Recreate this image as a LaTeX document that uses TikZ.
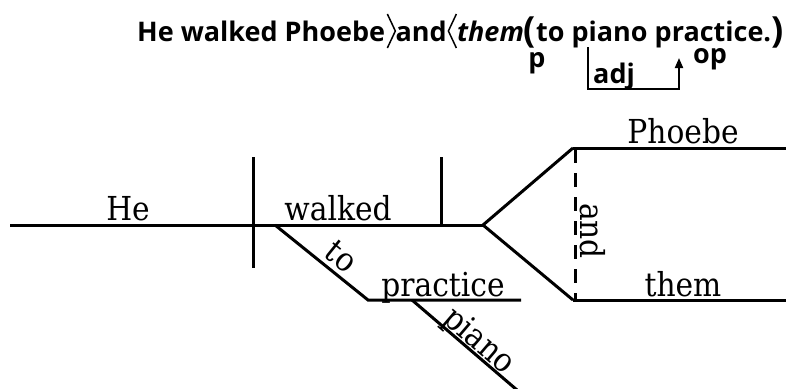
\documentclass[tikz,border=0pt]{standalone}
\usepackage{fontspec}
\setmainfont{Open Sans}
\newfontfamily\diagfont{DejaVu Serif Condensed}
\newfontfamily\sentfont{Open Sans}
\usetikzlibrary{arrows.meta,calc}
\begin{document}
\begin{tikzpicture}[x=1pt,y=-1pt,
  rule/.style={line width=3pt,line cap=butt},
  word/.style={font=\diagfont\fontsize{33}{33}\selectfont,inner sep=0pt,anchor=base},
  sent/.style={font=\sentfont\bfseries\fontsize{27}{27}\selectfont,inner sep=0pt,anchor=base},
  angle/.style={line width=1.5pt,line join=miter}]
\useasboundingbox (0,0) rectangle (786,388);

% sentence, split where the angle marks stand
\node[sent,anchor=base west] (s1) at (137,41) {He walked Phoebe};
\coordinate (r0) at ($(s1.base east)+(2,-27)$);
\node[sent,anchor=base west] (s2) at ($(s1.base east)+(10,0)$) {and};
\coordinate (l0) at ($(s2.base east)+(9.5,-27)$);
\node[sent,anchor=base west] (s3) at ($(s2.base east)+(10,0)$)
  {\textit{them}{\fontsize{36}{36}\selectfont\raisebox{-1.5pt}{(}}to piano practice.{\fontsize{36}{36}\selectfont\raisebox{-1.5pt}{)}}};
\draw[angle] (r0) -- ++(8,17) -- ++(-8,17);
\draw[angle] (l0) -- ++(-8,17) -- ++(8,17);

% labels under the sentence
\node[sent] (lp) at (537,67) {p};
\node[sent] (lop) at (710,63) {op};
\node[sent] (ladj) at (614,83) {adj};
\coordinate (b1) at (588,47);
\coordinate (b2) at (588,89);
\coordinate (b3) at (679,89);
\coordinate (b4) at (679,58);
\draw[line width=2pt,-{Triangle[length=10pt,width=8pt]}] (b1) -- (b2) -- (b3) -- (b4);

% main line
\coordinate (m0) at (10,225);
\coordinate (fork) at (483,225);
\coordinate (d1t) at (253,157);
\coordinate (d1b) at (253,268);
\coordinate (d2t) at (441,157);
\coordinate (d2b) at (441,225);
\draw[rule] (m0) -- (fork);
\draw[rule] (d1t) -- (d1b);
\draw[rule] (d2t) -- (d2b);

% compound object
\coordinate (ot) at (573,148);
\coordinate (ob) at (573,300);
\coordinate (otr) at (786,148);
\coordinate (obr) at (786,300);
\draw[rule,line join=miter] (ot) -- (fork) -- (ob);
\draw[rule] (ot) -- (otr);
\draw[rule] (ob) -- (obr);
\coordinate (ct) at (575,149);
\coordinate (cb) at (575,300);
\draw[rule,dash pattern=on 14pt off 10pt] (ct) -- (cb);

% prepositional phrase
\coordinate (p0) at (275,225);
\coordinate (p1) at (368,300);
\coordinate (p2) at (521,300);
\coordinate (q0) at (412,300);
\coordinate (q1) at (517,390);
\draw[rule,line join=miter] (p0) -- (p1) -- (p2);
\draw[rule] (q0) -- (q1);
\path (p0) -- (p1) node[word,pos=0.6,sloped,anchor=base,yshift=6pt] (to) {to};
\path (q0) -- (q1) node[word,pos=0.56,sloped,anchor=base,yshift=3pt] (piano) {piano};

% words
\node[word] (he) at (128,220) {He};
\node[word] (walked) at (338,220) {walked};
\node[word] (phoebe) at (683,143) {Phoebe};
\node[word] (them) at (683,296) {them};
\node[word] (practice) at (443,296) {practice};
\node[word,rotate=-90] (and) at (580,231) {and};
\end{tikzpicture}
\end{document}
